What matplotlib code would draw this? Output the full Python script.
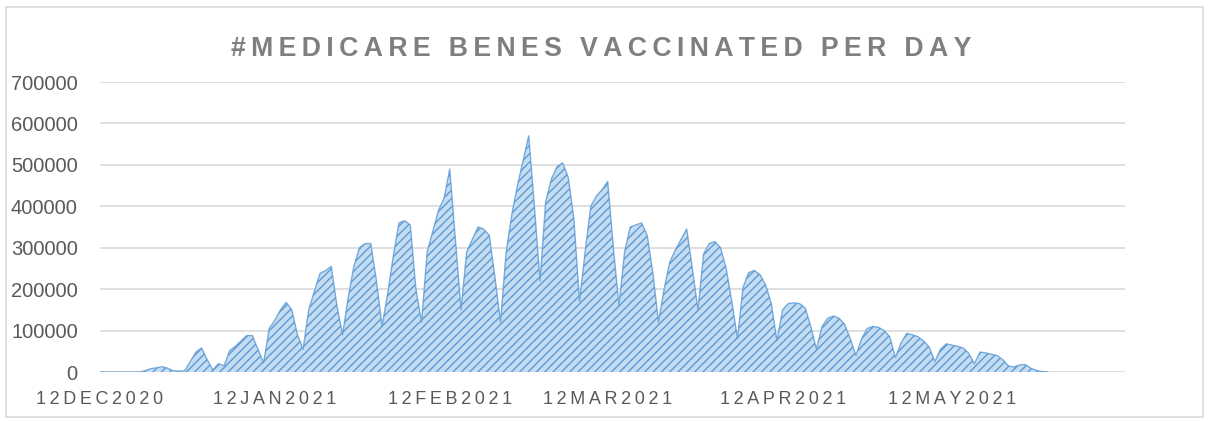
import matplotlib
matplotlib.use("Agg")
import matplotlib.pyplot as plt
import matplotlib.dates as mdates
from matplotlib.patches import Rectangle
import pandas as pd
import numpy as np

# ---- data ----
start_date = "2020-12-12"
daily_vaccinated = [
    0, 0, 0, 0, 0, 0, 0, 0,
    3000, 8000, 10000, 13000, 9000, 3000, 2000,
    3000, 25000, 48000, 58000, 30000, 5000, 20000,
    15000, 52000, 62000, 75000, 88000, 88000, 55000,
    22000, 105000, 125000, 150000, 168000, 150000, 90000,
    55000, 150000, 195000, 238000, 245000, 255000, 160000,
    90000, 180000, 255000, 300000, 310000, 310000, 220000,
    110000, 190000, 280000, 360000, 365000, 355000, 200000,
    120000, 290000, 340000, 390000, 420000, 490000, 320000,
    150000, 290000, 320000, 350000, 345000, 330000, 230000,
    120000, 290000, 380000, 450000, 510000, 570000, 400000,
    220000, 410000, 465000, 495000, 505000, 470000, 370000,
    170000, 290000, 400000, 425000, 440000, 460000, 300000,
    160000, 290000, 350000, 355000, 360000, 330000, 240000,
    120000, 200000, 265000, 295000, 320000, 345000, 250000,
    150000, 285000, 310000, 315000, 300000, 250000, 170000,
    80000, 205000, 240000, 245000, 235000, 210000, 165000,
    75000, 150000, 165000, 167000, 165000, 155000, 110000,
    55000, 110000, 130000, 135000, 130000, 115000, 80000,
    40000, 80000, 105000, 110000, 108000, 100000, 85000,
    35000, 70000, 93000, 90000, 85000, 75000, 60000,
    25000, 55000, 68000, 65000, 62000, 58000, 45000,
    20000, 48000, 46000, 43000, 40000, 30000, 15000,
    12000, 17000, 18000, 9000, 4000, 1000, 0,
]
tick_dates = ["2020-12-12", "2021-01-12", "2021-02-12", "2021-03-12",
              "2021-04-12", "2021-05-12"]
tick_labels = ["12DEC2020", "12JAN2021", "12FEB2021", "12MAR2021",
               "12APR2021", "12MAY2021"]
y_ticks = [0, 100000, 200000, 300000, 400000, 500000, 600000, 700000]
title = "#MEDICARE BENES VACCINATED PER DAY"

dates = pd.date_range(start_date, periods=len(daily_vaccinated), freq="D")
xs = mdates.date2num(dates.to_pydatetime())

plt.rcParams["hatch.linewidth"] = 1.0
fig = plt.figure(figsize=(12.09, 4.21), dpi=100)
fig.patches.append(Rectangle((6 / 1209, 4 / 421), 1197 / 1209, 410 / 421,
                             transform=fig.transFigure, fill=False,
                             edgecolor="#D9D9D9", linewidth=1.2))

ax = fig.add_axes([100 / 1209, 49 / 421, 1025 / 1209, 290 / 421])
ax.fill_between(xs, 0, daily_vaccinated, facecolor="#C6DCF1",
                edgecolor="#5B9BD5", hatch="////", linewidth=0, zorder=2)
ax.plot(xs, daily_vaccinated, color="#5B9BD5", linewidth=1.0, alpha=0.8,
        zorder=3)

x0 = mdates.date2num(pd.Timestamp(start_date).to_pydatetime())
ax.set_xlim(x0, x0 + 181.7)
ax.set_ylim(0, 700000)

sp = "\u2009"
tx = mdates.date2num(pd.to_datetime(tick_dates).to_pydatetime())
ax.set_xticks(tx)
ax.set_xticklabels([sp.join(t) for t in tick_labels],
                   family=["Liberation Sans", "DejaVu Sans"], fontsize=13,
                   color="#595959")
ax.set_yticks(y_ticks)
ax.set_yticklabels([str(v) for v in y_ticks],
                   family=["Liberation Sans", "DejaVu Sans"], fontsize=14.5,
                   color="#595959")
ax.tick_params(axis="x", length=0, pad=14)
ax.tick_params(axis="y", length=0, pad=16)
for s in ax.spines.values():
    s.set_visible(False)
ax.grid(axis="y", color="#D9D9D9", linewidth=1.2, zorder=0)
ax.set_axisbelow(True)

fig.text(601 / 1209, 1 - 49 / 421, sp.join(title), ha="center", va="center",
         fontsize=19.2, fontweight="bold", color="#7F7F7F",
         family=["Liberation Sans", "DejaVu Sans"])

fig.savefig("out.png", dpi=100)
